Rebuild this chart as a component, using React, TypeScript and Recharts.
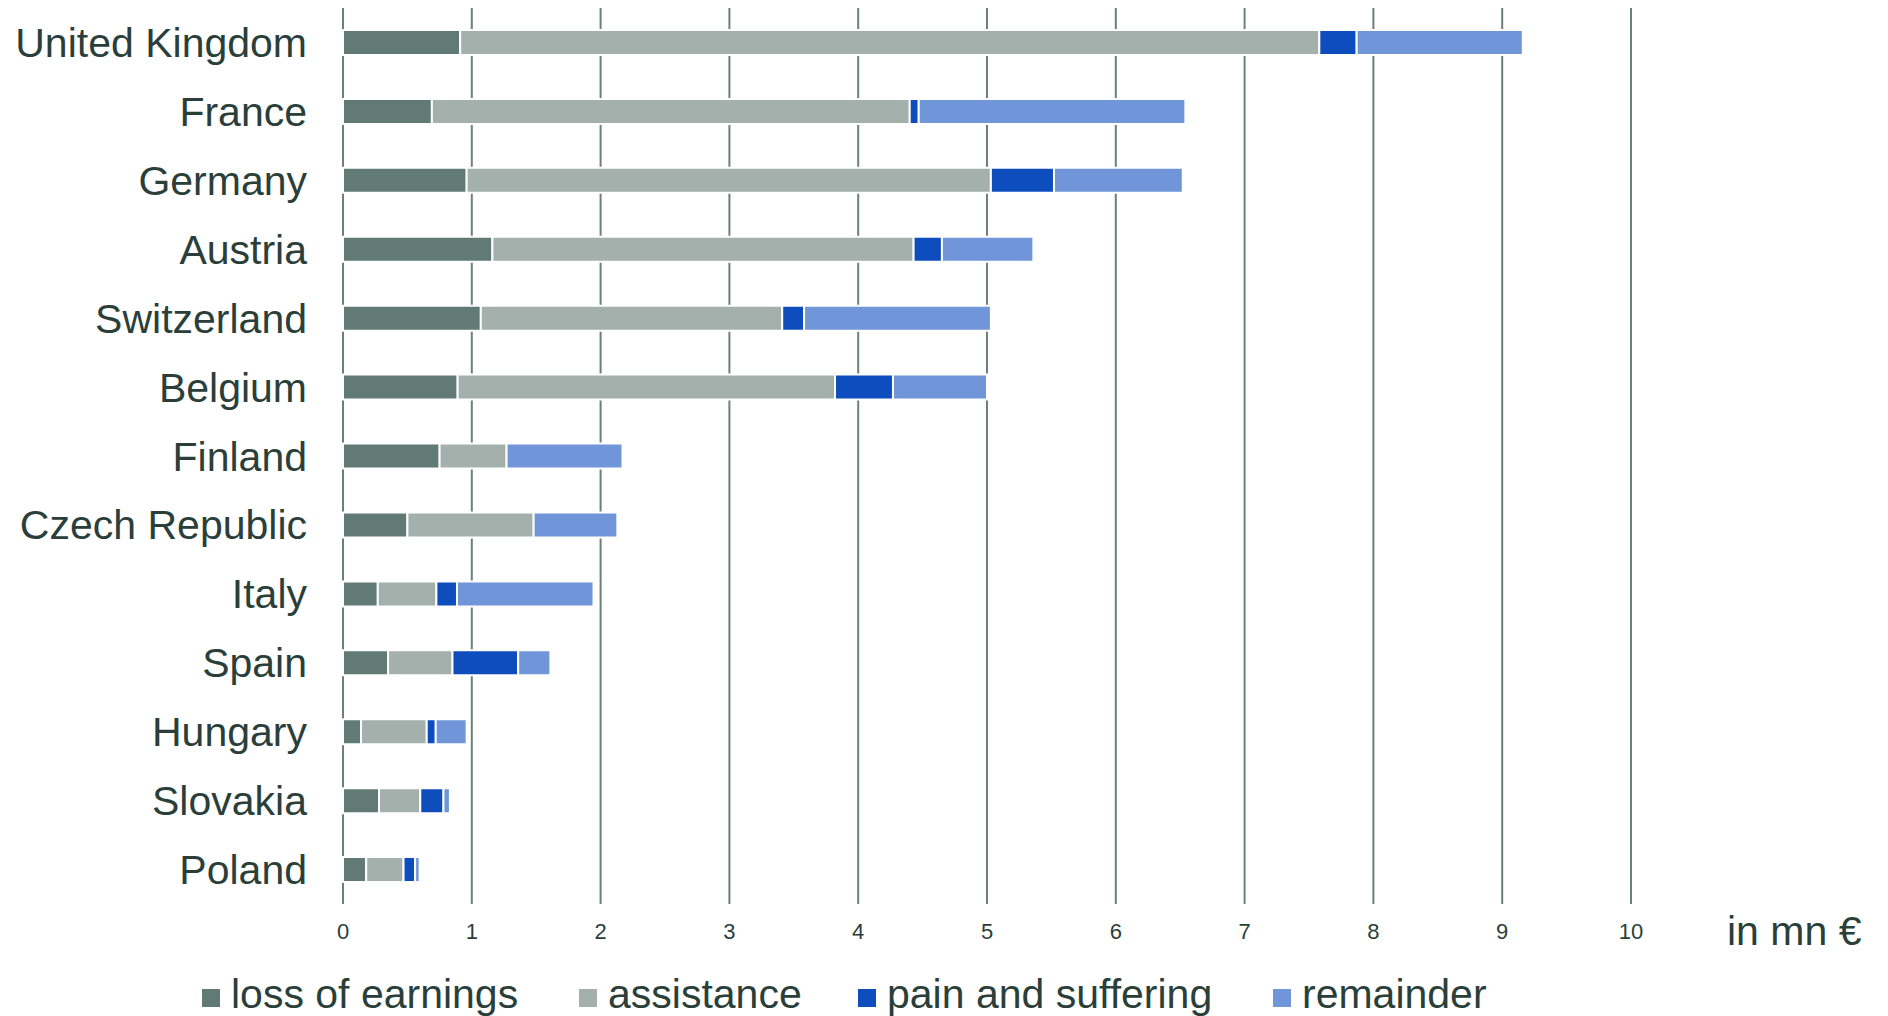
import { BarChart, Bar, XAxis, YAxis, CartesianGrid } from 'recharts';

const countries = [
  'United Kingdom',
  'France',
  'Germany',
  'Austria',
  'Switzerland',
  'Belgium',
  'Finland',
  'Czech Republic',
  'Italy',
  'Spain',
  'Hungary',
  'Slovakia',
  'Poland',
];

// in mn €
const lossOfEarnings = [0.91, 0.69, 0.96, 1.16, 1.07, 0.89, 0.75, 0.5, 0.27, 0.35, 0.14, 0.28, 0.18];
const assistance = [6.67, 3.71, 4.07, 3.27, 2.34, 2.93, 0.52, 0.98, 0.455, 0.5, 0.51, 0.32, 0.29];
const painAndSuffering = [0.29, 0.07, 0.49, 0.22, 0.17, 0.45, 0, 0, 0.16, 0.51, 0.07, 0.18, 0.09];
const remainder = [1.29, 2.07, 1.0, 0.71, 1.45, 0.73, 0.9, 0.65, 1.06, 0.25, 0.24, 0.05, 0.035];

const xTicks = [0, 1, 2, 3, 4, 5, 6, 7, 8, 9, 10];

const series = [
  { key: 'loss', name: 'loss of earnings', color: '#617b74' },
  { key: 'assistance', name: 'assistance', color: '#a3b0ac' },
  { key: 'pain', name: 'pain and suffering', color: '#0e4dbd' },
  { key: 'remainder', name: 'remainder', color: '#7195d9' },
];

const data = countries.map((country, i) => ({
  country,
  loss: lossOfEarnings[i],
  assistance: assistance[i],
  pain: painAndSuffering[i],
  remainder: remainder[i],
}));

const FONT = '"Liberation Sans", Arial, Helvetica, sans-serif';
const TEXT = '#2b3f3a';

const legendLeft = [202, 579, 858, 1273];

export default function App() {
  return (
    <div
      style={{
        position: 'absolute',
        left: 0,
        top: 0,
        width: 1888,
        height: 1016,
        background: '#fff',
        fontFamily: FONT,
        overflow: 'hidden',
      }}
    >
      <BarChart
        width={1888}
        height={960}
        layout="vertical"
        data={data}
        margin={{ top: 8, right: 257, left: 0, bottom: 16 }}
        barSize={25}
      >
        <CartesianGrid horizontal={false} stroke="#6b8079" strokeWidth={2} />
        <XAxis
          type="number"
          domain={[0, 10]}
          ticks={xTicks}
          height={40}
          axisLine={false}
          tickLine={false}
          tickSize={0}
          tickMargin={19}
          interval={0}
          tick={{ fill: TEXT, fontSize: 22, fontFamily: FONT }}
        />
        <YAxis
          type="category"
          dataKey="country"
          width={343}
          axisLine={false}
          tickLine={false}
          tickSize={0}
          tickMargin={36}
          interval={0}
          tick={{ fill: TEXT, fontSize: 41, fontFamily: FONT }}
        />
        {series.map((s) => (
          <Bar
            key={s.key}
            dataKey={s.key}
            name={s.name}
            stackId="a"
            fill={s.color}
            stroke="#fff"
            strokeWidth={2}
            isAnimationActive={false}
          />
        ))}
      </BarChart>

      <div
        style={{
          position: 'absolute',
          left: 1727,
          top: 908,
          fontSize: 41,
          lineHeight: 'normal',
          color: TEXT,
          whiteSpace: 'nowrap',
        }}
      >
        in mn €
      </div>

      {series.map((s, i) => (
        <div
          key={s.key}
          style={{
            position: 'absolute',
            left: legendLeft[i],
            top: 971,
            display: 'flex',
            alignItems: 'flex-start',
            whiteSpace: 'nowrap',
          }}
        >
          <span
            style={{
              width: 18,
              height: 18,
              marginTop: 18,
              marginRight: 11,
              background: s.color,
              display: 'inline-block',
            }}
          />
          <span style={{ fontSize: 41, lineHeight: 'normal', color: TEXT }}>{s.name}</span>
        </div>
      ))}
    </div>
  );
}
